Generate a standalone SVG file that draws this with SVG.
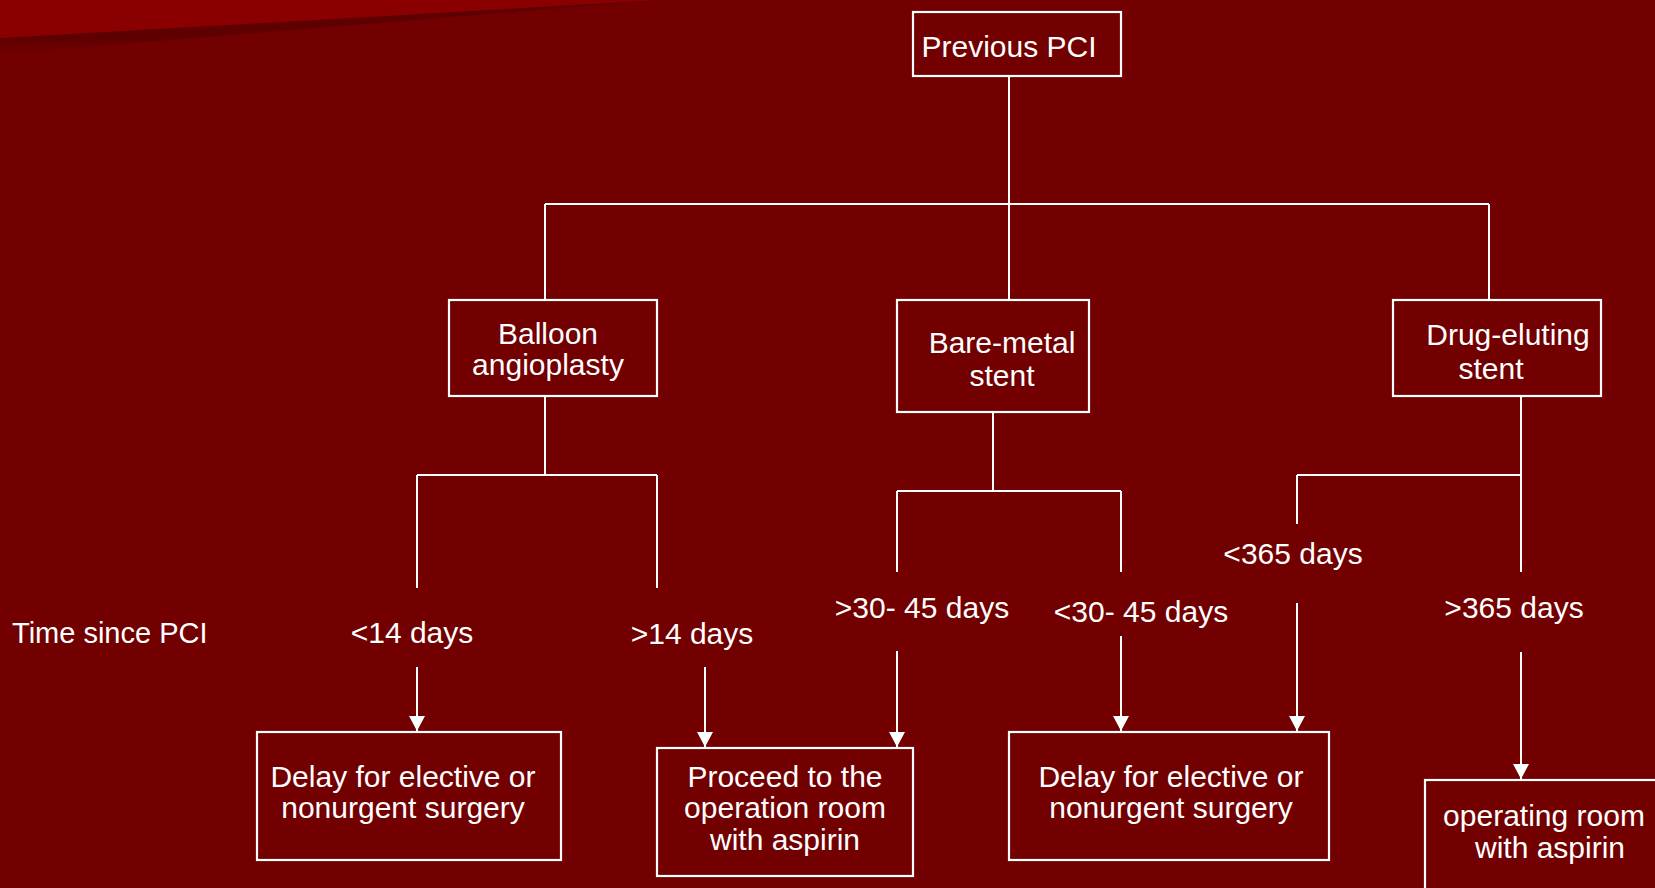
<svg xmlns="http://www.w3.org/2000/svg" width="1655" height="888" viewBox="0 0 1655 888">
  <defs>
    <linearGradient id="shade" x1="0" y1="38" x2="0" y2="54" gradientUnits="userSpaceOnUse">
      <stop offset="0" stop-color="#5e0000"/>
      <stop offset="1" stop-color="#720000"/>
    </linearGradient>
    <marker id="arrow" markerUnits="userSpaceOnUse" markerWidth="16" markerHeight="16" viewBox="0 0 16 16" refX="15" refY="8" orient="auto">
      <path d="M0,0 L15,8 L0,16 Z" fill="#ffffff"/>
    </marker>
    <style>
      .box { fill: none; stroke: #ffffff; stroke-width: 2.2; }
      .line { fill: none; stroke: #ffffff; stroke-width: 2; }
      .arr { fill: none; stroke: #ffffff; stroke-width: 2; marker-end: url(#arrow); }
      text { font-family: "Liberation Sans", Arial, sans-serif; font-size: 30px; fill: #ffffff; text-anchor: middle; }
      .left { text-anchor: start; font-size: 29px; }
    </style>
  </defs>

  <!-- background -->
  <rect x="0" y="0" width="1655" height="888" fill="#720000"/>
  <polygon points="0,38 660,0 0,54" fill="url(#shade)"/>
  <polygon points="0,0 660,0 0,38" fill="#8a0000"/>

  <!-- connectors -->
  <g id="connectors">
    <path class="line" d="M1009,76 V204 M545,204 H1489 M545,204 V300 M1009,204 V300 M1489,204 V300"/>
    <path class="line" d="M545,396 V475 M417,475 H657 M417,475 V588 M657,475 V588"/>
    <path class="line" d="M993,412 V491 M897,491 H1121 M897,491 V572 M1121,491 V572"/>
    <path class="line" d="M1521,396 V475 M1297,475 H1521 M1297,475 V524 M1521,475 V572"/>
    <path class="arr" d="M417,667 V731"/>
    <path class="arr" d="M705,667 V747"/>
    <path class="arr" d="M897,651 V747"/>
    <path class="arr" d="M1121,636 V731"/>
    <path class="arr" d="M1297,603 V731"/>
    <path class="arr" d="M1521,652 V779"/>
  </g>

  <!-- nodes -->
  <g id="previous-pci">
    <rect class="box" x="913" y="12" width="208" height="64"/>
    <text x="1009" y="57">Previous PCI</text>
  </g>

  <g id="balloon">
    <rect class="box" x="449" y="300" width="208" height="96"/>
    <text x="548" y="344">Balloon</text>
    <text x="548" y="375">angioplasty</text>
  </g>

  <g id="bare-metal">
    <rect class="box" x="897" y="300" width="192" height="112"/>
    <text x="1002" y="353">Bare-metal</text>
    <text x="1002" y="386">stent</text>
  </g>

  <g id="drug-eluting">
    <rect class="box" x="1393" y="300" width="208" height="96"/>
    <text x="1508" y="345">Drug-eluting</text>
    <text x="1491" y="379">stent</text>
  </g>

  <g id="time-label">
    <text class="left" x="12" y="643">Time since PCI</text>
  </g>

  <g id="labels">
    <text x="412" y="643">&lt;14 days</text>
    <text x="692" y="644">&gt;14 days</text>
    <text x="922" y="618">&gt;30- 45 days</text>
    <text x="1141" y="622">&lt;30- 45 days</text>
    <text x="1293" y="564">&lt;365 days</text>
    <text x="1514" y="618">&gt;365 days</text>
  </g>

  <g id="delay-balloon">
    <rect class="box" x="257" y="732" width="304" height="128"/>
    <text x="403" y="787">Delay for elective or</text>
    <text x="403" y="818">nonurgent surgery</text>
  </g>

  <g id="proceed">
    <rect class="box" x="657" y="748" width="256" height="128"/>
    <text x="785" y="787">Proceed to the</text>
    <text x="785" y="818">operation room</text>
    <text x="785" y="850">with aspirin</text>
  </g>

  <g id="delay-stent">
    <rect class="box" x="1009" y="732" width="320" height="128"/>
    <text x="1171" y="787">Delay for elective or</text>
    <text x="1171" y="818">nonurgent surgery</text>
  </g>

  <g id="operating-room">
    <rect class="box" x="1425" y="780" width="250" height="130"/>
    <text x="1544" y="826">operating room</text>
    <text x="1550" y="858">with aspirin</text>
  </g>
</svg>
